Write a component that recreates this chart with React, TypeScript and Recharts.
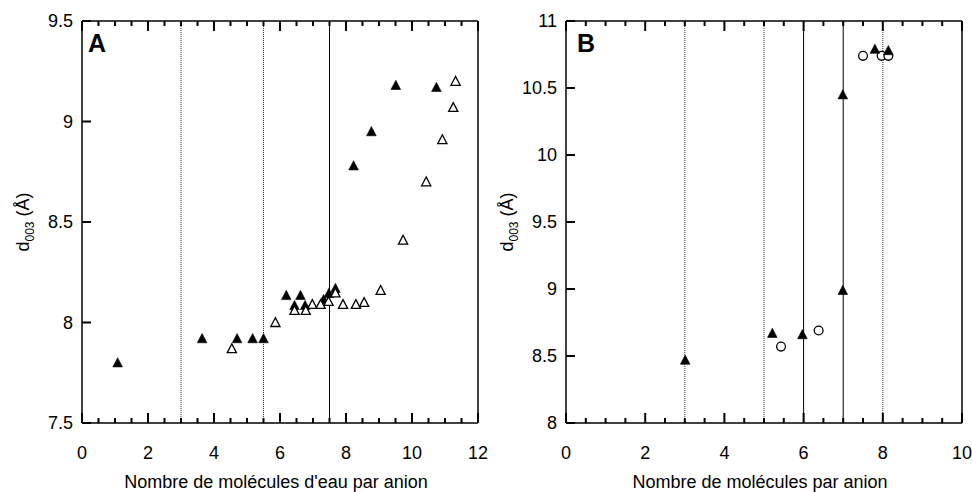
import React from 'react';
import { ScatterChart, Scatter, XAxis, YAxis, ReferenceLine } from 'recharts';

const FONT = '"Liberation Sans", Arial, Helvetica, sans-serif';

// ---------- Panel A data ----------
const aFilledX = [1.08, 3.64, 4.7, 5.17, 5.5, 6.19, 6.44, 6.62, 6.76, 7.32, 7.48, 7.68, 8.23, 8.77, 9.51, 10.74];
const aFilledY = [7.8, 7.92, 7.92, 7.92, 7.92, 8.135, 8.085, 8.135, 8.085, 8.115, 8.145, 8.17, 8.78, 8.95, 9.18, 9.17];
const aOpenX = [4.54, 5.86, 6.44, 6.78, 6.98, 7.23, 7.47, 7.68, 7.91, 8.3, 8.55, 9.05, 9.73, 10.43, 10.92, 11.25, 11.32];
const aOpenY = [7.87, 8.0, 8.06, 8.06, 8.09, 8.09, 8.105, 8.147, 8.09, 8.09, 8.1, 8.16, 8.41, 8.7, 8.91, 9.07, 9.2];
const aDotted = [3, 5.5];
const aSolid = [7.5];
const aXTicks = [0, 0.5, 1, 1.5, 2, 2.5, 3, 3.5, 4, 4.5, 5, 5.5, 6, 6.5, 7, 7.5, 8, 8.5, 9, 9.5, 10, 10.5, 11, 11.5, 12];
const aXMajor = [0, 2, 4, 6, 8, 10, 12];
const aYTicks = [7.5, 8, 8.5, 9, 9.5];
const aXDomain = [0, 12];
const aYDomain = [7.5, 9.5];

// ---------- Panel B data ----------
const bFilledX = [3.01, 5.21, 5.97, 6.99, 6.99, 7.8, 8.14];
const bFilledY = [8.47, 8.67, 8.66, 8.99, 10.45, 10.79, 10.78];
const bCircleX = [5.43, 6.38, 7.5, 7.97, 8.14];
const bCircleY = [8.57, 8.69, 10.74, 10.74, 10.74];
const bDotted = [3, 5, 8];
const bSolid = [6, 7];
const bXTicks = [0, 0.5, 1, 1.5, 2, 2.5, 3, 3.5, 4, 4.5, 5, 5.5, 6, 6.5, 7, 7.5, 8, 8.5, 9, 9.5, 10];
const bXMajor = [0, 2, 4, 6, 8, 10];
const bYTicks = [8, 8.5, 9, 9.5, 10, 10.5, 11];
const bXDomain = [0, 10];
const bYDomain = [8, 11];

const PLOT_W = 396;
const PLOT_H = 402;

const zip = (xs: number[], ys: number[]) => xs.map((x, i) => ({ x, y: ys[i] }));

const FilledTri = (p: any) => {
  const { cx, cy } = p;
  if (cx == null || cy == null) return null;
  return <polygon points={`${cx},${cy - 5} ${cx - 4.8},${cy + 4.2} ${cx + 4.8},${cy + 4.2}`} fill="#000" stroke="#000" strokeWidth={0.6} />;
};
const OpenTri = (p: any) => {
  const { cx, cy } = p;
  if (cx == null || cy == null) return null;
  return <polygon points={`${cx},${cy - 4.8} ${cx - 4.6},${cy + 4} ${cx + 4.6},${cy + 4}`} fill="#fff" stroke="#000" strokeWidth={1.3} />;
};
const OpenCircle = (p: any) => {
  const { cx, cy } = p;
  if (cx == null || cy == null) return null;
  return <circle cx={cx} cy={cy} r={4.4} fill="#fff" stroke="#000" strokeWidth={1.3} />;
};

const makeBottomLabel = (major: number[]) => (props: any) => {
  const { x, y, payload } = props;
  const v = payload.value;
  if (!major.includes(v)) return <g />;
  return (
    <text x={x} y={y + 36} textAnchor="middle" fontSize={18} fontFamily={FONT} fill="#000">
      {v}
    </text>
  );
};
const LeftLabel = (props: any) => {
  const { x, y, payload } = props;
  return (
    <text x={x - 9} y={y} dy="0.36em" textAnchor="end" fontSize={18} fontFamily={FONT} fill="#000">
      {payload.value}
    </text>
  );
};

type PanelProps = {
  width: number;
  filled: { x: number; y: number }[];
  open: { x: number; y: number }[];
  openShape: any;
  dotted: number[];
  solid: number[];
  xTicks: number[];
  xMajor: number[];
  yTicks: number[];
  xDomain: number[];
  yDomain: number[];
  letter: string;
  letterDx: number;
  xTitle: string;
  openFirst: boolean;
};

const TICK_W = 2;

const Panel = (p: PanelProps) => {
  const margin = { top: 21, right: p.width - 82 - PLOT_W, bottom: 24, left: 22 };
  const [x0, x1] = p.xDomain;
  const [y0, y1] = p.yDomain;
  const dyPx = (y1 - y0) / PLOT_H;
  const dxPx = (x1 - x0) / PLOT_W;

  const tickMarks: React.ReactNode[] = [];
  p.xTicks.forEach((v) => {
    const len = p.xMajor.includes(v) ? 10 : 5;
    tickMarks.push(
      <ReferenceLine
        key={`tb${v}`}
        xAxisId="main"
        yAxisId="main"
        ifOverflow="visible"
        segment={[{ x: v, y: y0 }, { x: v, y: y0 + len * dyPx }]}
        stroke="#000"
        strokeWidth={TICK_W}
      />
    );
    tickMarks.push(
      <ReferenceLine
        key={`tt${v}`}
        xAxisId="main"
        yAxisId="main"
        ifOverflow="visible"
        segment={[{ x: v, y: y1 }, { x: v, y: y1 - len * dyPx }]}
        stroke="#000"
        strokeWidth={TICK_W}
      />
    );
  });
  p.yTicks.forEach((v) => {
    tickMarks.push(
      <ReferenceLine
        key={`tl${v}`}
        xAxisId="main"
        yAxisId="main"
        ifOverflow="visible"
        segment={[{ x: x0, y: v }, { x: x0 + 9 * dxPx, y: v }]}
        stroke="#000"
        strokeWidth={TICK_W}
      />
    );
  });

  const openSeries = (
    <Scatter key="open" data={p.open} xAxisId="main" yAxisId="main" shape={p.openShape} isAnimationActive={false} />
  );
  const filledSeries = (
    <Scatter key="filled" data={p.filled} xAxisId="main" yAxisId="main" shape={FilledTri} isAnimationActive={false} />
  );
  return (
    <ScatterChart width={p.width} height={492} margin={margin} style={{ overflow: 'visible' }}>
      <XAxis
        xAxisId="main"
        dataKey="x"
        type="number"
        domain={p.xDomain}
        ticks={p.xTicks}
        interval={0}
        allowDataOverflow
        height={45}
        tickSize={0}
        tickMargin={0}
        tickLine={false}
        tick={makeBottomLabel(p.xMajor)}
        axisLine={{ stroke: '#000', strokeWidth: 1.5 }}
        label={(lp: any) => {
          const vb = lp.viewBox || {};
          return (
            <text x={vb.x + vb.width / 2 - 4} y={vb.y + 65} textAnchor="middle" fontSize={18} fontFamily={FONT} fill="#000">
              {p.xTitle}
            </text>
          );
        }}
      />
      <YAxis
        yAxisId="main"
        dataKey="y"
        type="number"
        domain={p.yDomain}
        ticks={p.yTicks}
        interval={0}
        allowDataOverflow
        width={60}
        tickSize={0}
        tickMargin={0}
        tickLine={false}
        tick={LeftLabel}
        axisLine={{ stroke: '#000', strokeWidth: 1.5 }}
        label={(lp: any) => {
          const vb = lp.viewBox || {};
          const tx = vb.x + 7;
          const ty = vb.y + vb.height / 2;
          return (
            <g>
              <text x={tx} y={ty} transform={`rotate(-90, ${tx}, ${ty})`} textAnchor="middle" fontSize={18} fontFamily={FONT} fill="#000">
                d
                <tspan fontSize={12} dy={5}>003</tspan>
                <tspan dy={-5}> (Å)</tspan>
              </text>
              <text x={vb.x + vb.width + p.letterDx} y={vb.y + 31} fontSize={25} fontWeight="bold" fontFamily={FONT} fill="#000">
                {p.letter}
              </text>
            </g>
          );
        }}
      />
      <ReferenceLine xAxisId="main" yAxisId="main" y={y1} stroke="#000" strokeWidth={1.5} />
      <ReferenceLine xAxisId="main" yAxisId="main" x={x1} stroke="#000" strokeWidth={1.5} />
      {p.dotted.map((v) => (
        <ReferenceLine key={`d${v}`} x={v} xAxisId="main" yAxisId="main" stroke="#333" strokeWidth={1} strokeDasharray="1 1" />
      ))}
      {p.solid.map((v) => (
        <ReferenceLine key={`s${v}`} x={v} xAxisId="main" yAxisId="main" stroke="#000" strokeWidth={1} />
      ))}
      {tickMarks}
      {p.openFirst ? [openSeries, filledSeries] : [filledSeries, openSeries]}
    </ScatterChart>
  );
};

export default function App() {
  return (
    <div style={{ position: 'absolute', left: 0, top: 0, width: 972, height: 492, background: '#fff', fontFamily: FONT }}>
      <div style={{ position: 'absolute', left: 0, top: 0 }}>
        <Panel
          width={500}
          filled={zip(aFilledX, aFilledY)}
          open={zip(aOpenX, aOpenY)}
          openShape={OpenTri}
          dotted={aDotted}
          solid={aSolid}
          xTicks={aXTicks}
          xMajor={aXMajor}
          yTicks={aYTicks}
          xDomain={aXDomain}
          yDomain={aYDomain}
          letter="A"
          letterDx={6}
          xTitle="Nombre de molécules d'eau par anion"
          openFirst={false}
        />
      </div>
      <div style={{ position: 'absolute', left: 484, top: 0 }}>
        <Panel
          width={488}
          filled={zip(bFilledX, bFilledY)}
          open={zip(bCircleX, bCircleY)}
          openShape={OpenCircle}
          dotted={bDotted}
          solid={bSolid}
          xTicks={bXTicks}
          xMajor={bXMajor}
          yTicks={bYTicks}
          xDomain={bXDomain}
          yDomain={bYDomain}
          letter="B"
          letterDx={11}
          xTitle="Nombre de molécules par anion"
          openFirst={true}
        />
      </div>
    </div>
  );
}
